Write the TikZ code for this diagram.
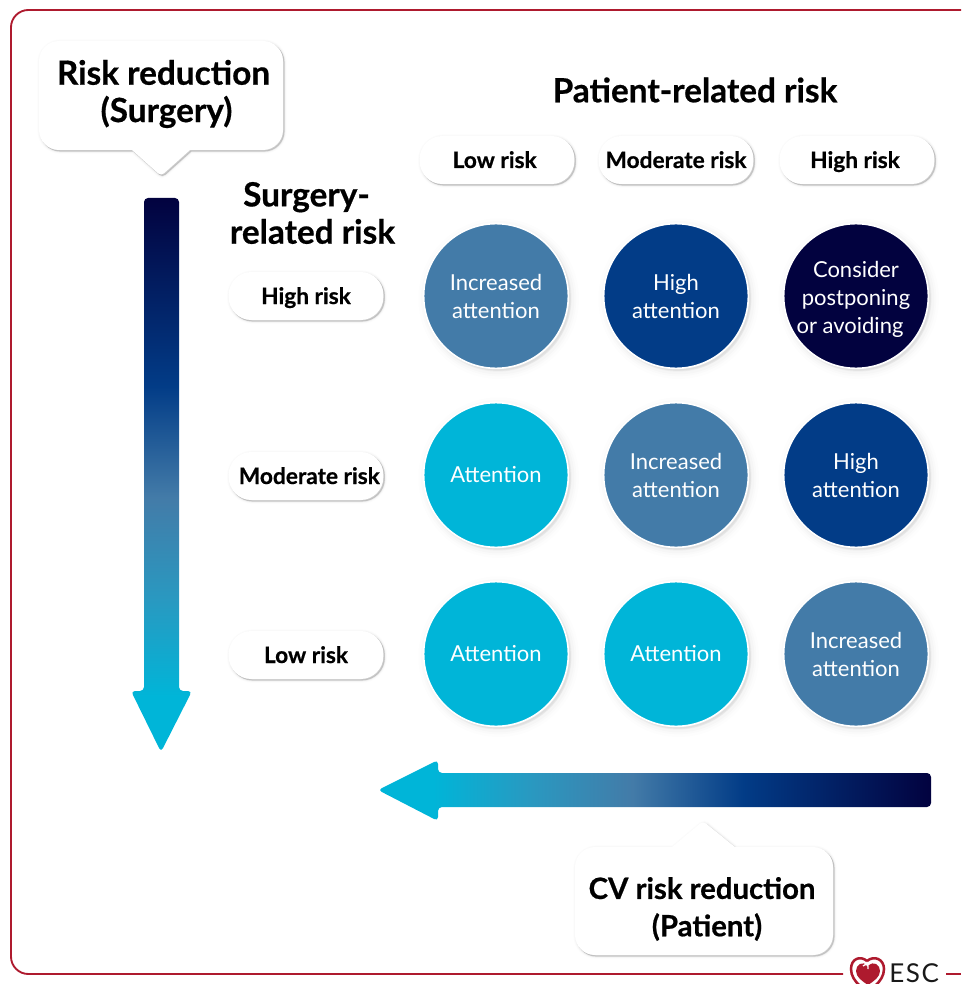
\documentclass[tikz,border=0pt]{standalone}
\usepackage{fontspec}
\setmainfont{Lato}[BoldFeatures={FakeBold=0.6}]
\usepackage{tikz}
\usetikzlibrary{shadows}

\definecolor{escred}{HTML}{AE1A2E}
\definecolor{levela}{HTML}{00B5D8}
\definecolor{levelab}{HTML}{2A98C0}
\definecolor{levelb}{HTML}{437BA8}
\definecolor{levelc}{HTML}{023C87}
\definecolor{leveld}{HTML}{02023F}

\pgfdeclareverticalshading{riskfade}{100bp}{color(0bp)=(levela); color(30bp)=(levela); color(39bp)=(levelab);
  color(48bp)=(levelb); color(58bp)=(levelc); color(75bp)=(leveld); color(100bp)=(leveld)}

\tikzset{
  softshadow/.style={
    general shadow={shadow xshift=.8pt, shadow yshift=-.8pt, fill=black, draw=black, line width=4pt, opacity=.012},
    general shadow={shadow xshift=.8pt, shadow yshift=-.8pt, fill=black, draw=black, line width=2.6pt, opacity=.02},
    general shadow={shadow xshift=.9pt, shadow yshift=-.9pt, fill=black, draw=black, line width=1.4pt, opacity=.04},
    general shadow={shadow xshift=1pt, shadow yshift=-1pt, fill=black, draw=black, line width=.4pt, opacity=.10}},
  wideshadow/.style={
    general shadow={shadow xshift=2pt, shadow yshift=-2pt, fill=black, draw=black, line width=12pt, opacity=.008},
    general shadow={shadow xshift=2pt, shadow yshift=-2pt, fill=black, draw=black, line width=8pt, opacity=.012},
    general shadow={shadow xshift=2pt, shadow yshift=-2pt, fill=black, draw=black, line width=5pt, opacity=.016},
    general shadow={shadow xshift=1.5pt, shadow yshift=-1.5pt, fill=black, draw=black, line width=2pt, opacity=.03}},
  riskcircle/.style={circle, minimum size=108.5pt, inner sep=0pt, draw=white, line width=1.2pt, text=white,
    align=center, font=\fontsize{16.5}{21}\selectfont, wideshadow},
  riskpill/.style={rectangle, rounded corners=17pt, minimum width=116pt, minimum height=36pt, inner sep=0pt, fill=white,
    text height=14pt, text depth=2pt, font=\fontsize{17}{20}\bfseries\selectfont, softshadow},
  heading/.style={align=center, font=\fontsize{25}{28}\bfseries\selectfont},
  bubble/.style={fill=white, rounded corners=15pt, softshadow},
  fadearrow/.style={shading=riskfade, rounded corners=3pt}
}

\begin{document}
\begin{tikzpicture}[x=0.75pt, y=-0.75pt]
    \useasboundingbox (0,0) rectangle (961,984);

    % frame
    \draw[escred, line width=1.4pt, rounded corners=13pt] (961,10) -- (11,10) -- (11,974) -- (843,974);
    \draw[escred, line width=1.4pt] (946,974) -- (961,974);

    % logo
    \fill[escred] (868,966) .. controls (862,960) and (856,965) .. (856,971)
        .. controls (856,977) and (862,981) .. (868,985)
        .. controls (874,981) and (880,977) .. (880,971)
        .. controls (880,965) and (874,960) .. (868,966) -- cycle;
    \draw[white, line width=1pt] (863,966) .. controls (866,963) and (869,965) .. (868,969);
    \draw[escred, line width=1.9pt] (867,961) .. controls (860,955) and (851,959) .. (851,969)
        .. controls (851,976) and (855,981) .. (859,985);
    \draw[escred, line width=1.9pt] (867,961) .. controls (874,955) and (884,959) .. (884,969)
        .. controls (884,976) and (880,981) .. (876,985);
    \node[anchor=base west, inner sep=0pt, font=\fontsize{19.5}{20}\selectfont\addfontfeature{LetterSpace=6}, text=black!90] (esclogo) at (889,982) {ESC};

    % bubbles
    \path[bubble] (39,41) -- (283,41) -- (283,150) [sharp corners] -- (190,150) [rounded corners=3pt] -- (161,176)
        [sharp corners] -- (132,150) [rounded corners=15pt] -- (39,150) -- cycle;
    \path[bubble] (575,847) [sharp corners] -- (672,847) [rounded corners=3pt] -- (703,821) [sharp corners] -- (735,847)
        [rounded corners=15pt] -- (833,847) -- (833,955) -- (575,955) -- cycle;
    \node[heading] (surgerybubble) at (163.5,94) {Risk reduction\\\hspace*{4.5pt}(Surgery)};
    \node[heading, font=\fontsize{22}{28}\bfseries\selectfont] (patientbubble) at (702,909) {CV risk reduction\\\hspace*{7.5pt}(Patient)};

    % arrows
    \path[fadearrow] (144,198) -- (179,198) -- (179,691) -- (192,691) -- (161,752) -- (131,691) -- (144,691) -- cycle;
    \path[fadearrow, shading angle=-90] (931,773) -- (931,807) -- (438,807) -- (438,821) -- (378,790) -- (438,760)
        -- (438,773) -- cycle;

    % headings
    \node[heading] (patienthead) at (695,90) {Patient-related risk};
    \node[heading] (surgeryhead) at (312.5,213) {Surgery-\hspace*{9pt}\\related risk};

    % patient risk
    \node[riskpill] (plow) at (497,160) {Low risk\hspace*{3.5pt}};
    \node[riskpill] (pmod) at (676,160) {Moderate risk};
    \node[riskpill] (phigh) at (857,160) {High risk\hspace*{3pt}};

    % surgery risk
    \node[riskpill] (shigh) at (306,296) {High risk};
    \node[riskpill] (smod) at (306,476) {\hspace*{5pt}Moderate risk};
    \node[riskpill] (slow) at (306,655) {Low risk};

    % grid
    \node[riskcircle, fill=levelb] (c11) at (496,296) {Increased\\attention};
    \node[riskcircle, fill=levelc] (c12) at (676,296) {High\\attention};
    \node[riskcircle, fill=leveld] (c13) at (856,296) {\rule{0pt}{17pt}Consider\\postponing\\or avoiding\hspace*{9pt}};
    \node[riskcircle, fill=levela] (c21) at (496,475) {Attention};
    \node[riskcircle, fill=levelb] (c22) at (676,475) {Increased\\attention};
    \node[riskcircle, fill=levelc] (c23) at (856,475) {High\\attention};
    \node[riskcircle, fill=levela] (c31) at (496,654) {Attention};
    \node[riskcircle, fill=levela] (c32) at (676,654) {Attention};
    \node[riskcircle, fill=levelb] (c33) at (856,654) {Increased\\attention};
\end{tikzpicture}
\end{document}
